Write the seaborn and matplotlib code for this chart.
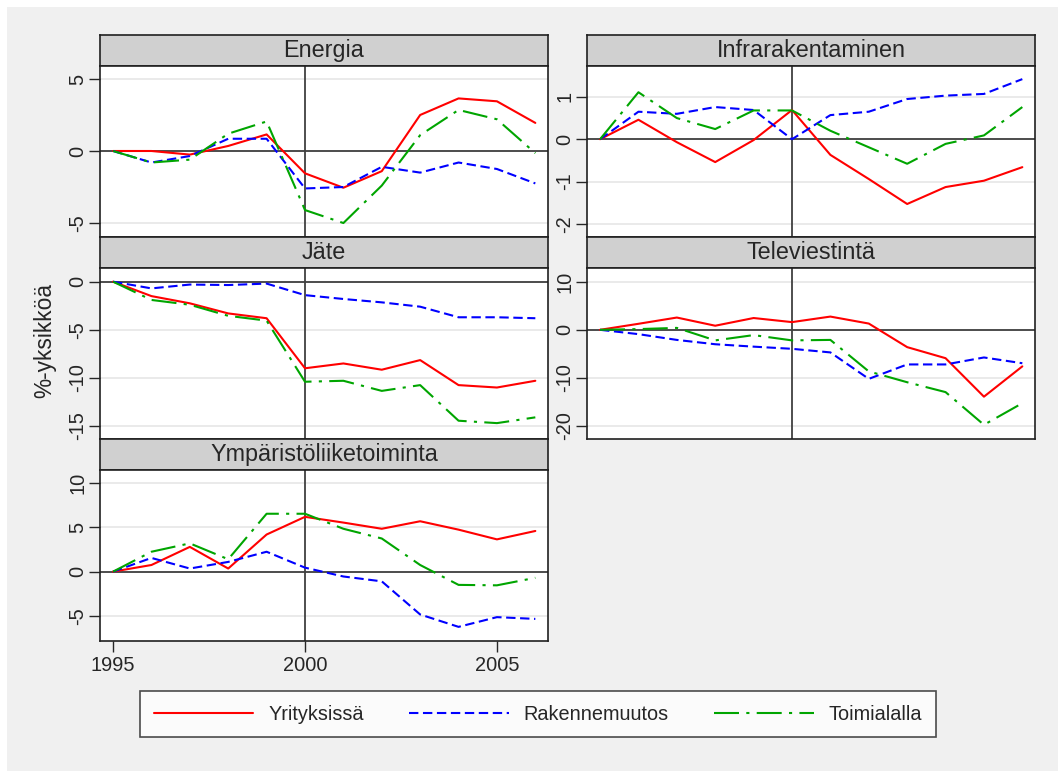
import pandas as pd
import seaborn as sns
import matplotlib
matplotlib.use('Agg')
import matplotlib.pyplot as plt
from matplotlib.lines import Line2D
from matplotlib.patches import Rectangle

# vuodet ja sarjat
years = list(range(1995, 2007))
series = ['Yrityksissä', 'Rakennemuutos', 'Toimialalla']

energia_yri = [0, 0, -0.25, 0.35, 1.15, -1.55, -2.55, -1.4, 2.5, 3.65, 3.45, 1.95]
energia_rak = [0, -0.8, -0.35, 0.85, 0.85, -2.6, -2.5, -1.1, -1.5, -0.8, -1.25, -2.25]
energia_toi = [0, -0.8, -0.6, 1.2, 2.05, -4.1, -5.0, -2.4, 1.1, 2.85, 2.2, -0.15]

infra_yri = [0, 0.46, -0.07, -0.54, -0.02, 0.69, -0.37, -0.94, -1.53, -1.13, -0.98, -0.66]
infra_rak = [0, 0.65, 0.6, 0.76, 0.69, 0.0, 0.57, 0.65, 0.95, 1.03, 1.07, 1.42]
infra_toi = [0, 1.11, 0.5, 0.24, 0.68, 0.68, 0.2, -0.19, -0.58, -0.11, 0.09, 0.76]

jate_yri = [0, -1.5, -2.25, -3.3, -3.8, -9.0, -8.5, -9.15, -8.15, -10.75, -11.0, -10.3]
jate_rak = [0, -0.7, -0.3, -0.35, -0.2, -1.4, -1.8, -2.15, -2.6, -3.7, -3.7, -3.8]
jate_toi = [0, -1.9, -2.4, -3.55, -4.05, -10.4, -10.3, -11.35, -10.75, -14.45, -14.7, -14.1]

tele_yri = [0, 1.25, 2.55, 0.85, 2.45, 1.6, 2.75, 1.3, -3.6, -5.9, -13.9, -7.6]
tele_rak = [0, -0.9, -2.1, -3.0, -3.5, -3.95, -4.7, -10.2, -7.2, -7.2, -5.75, -6.95]
tele_toi = [0, 0.15, 0.4, -2.2, -1.1, -2.2, -2.1, -8.65, -10.9, -12.95, -19.75, -15.25]

ymp_yri = [0, 0.75, 2.8, 0.35, 4.2, 6.2, 5.55, 4.85, 5.7, 4.75, 3.65, 4.6]
ymp_rak = [0, 1.55, 0.35, 1.1, 2.25, 0.45, -0.55, -1.1, -4.85, -6.25, -5.15, -5.35]
ymp_toi = [0, 2.25, 3.2, 1.4, 6.55, 6.55, 4.85, 3.75, 0.75, -1.5, -1.55, -0.7]

panel_data = {
    'Energia': (energia_yri, energia_rak, energia_toi),
    'Infrarakentaminen': (infra_yri, infra_rak, infra_toi),
    'Jäte': (jate_yri, jate_rak, jate_toi),
    'Televiestintä': (tele_yri, tele_rak, tele_toi),
    'Ympäristöliiketoiminta': (ymp_yri, ymp_rak, ymp_toi),
}
yticks = {
    'Energia': [-5, 0, 5],
    'Infrarakentaminen': [-2, -1, 0, 1],
    'Jäte': [-15, -10, -5, 0],
    'Televiestintä': [-20, -10, 0, 10],
    'Ympäristöliiketoiminta': [-5, 0, 5, 10],
}
ylims = {
    'Energia': (-5.97, 5.9),
    'Infrarakentaminen': (-2.31, 1.73),
    'Jäte': (-16.35, 1.42),
    'Televiestintä': (-22.7, 12.85),
    'Ympäristöliiketoiminta': (-7.85, 11.5),
}

rows = []
for panel, vals in panel_data.items():
    for s, v in zip(series, vals):
        for yr, val in zip(years, v):
            rows.append({'panel': panel, 'series': s, 'year': yr, 'value': val})
df = pd.DataFrame(rows)

sns.set_style('white')
plt.rcParams['font.family'] = ['Liberation Sans', 'DejaVu Sans']
plt.rcParams['axes.unicode_minus'] = False

colors = {'Yrityksissä': '#ff0000', 'Rakennemuutos': '#0000ff', 'Toimialalla': '#00a500'}
dashes = {'Yrityksissä': '', 'Rakennemuutos': (4.5, 2.2), 'Toimialalla': (12, 3.5, 1.5, 3.5)}

W, H = 1058, 771
fig = plt.figure(figsize=(W / 100, H / 100), dpi=100, facecolor='white')
fig.patches.append(Rectangle((7 / W, 0), 1, 1 - 7 / H, transform=fig.transFigure,
                             facecolor='#f0f0f0', edgecolor='none', zorder=-10))

# paneelien sijainnit pikseleinä: (vasen, otsikon yläreuna)
layout = {
    'Energia': (100, 35),
    'Infrarakentaminen': (587, 35),
    'Jäte': (100, 237),
    'Televiestintä': (587, 237),
    'Ympäristöliiketoiminta': (100, 439),
}
pw, hh, ph = 448, 31, 171

for panel, (px, py) in layout.items():
    hdr = fig.add_axes([px / W, 1 - (py + hh) / H, pw / W, hh / H])
    hdr.set_facecolor('#d0d0d0')
    hdr.set_xticks([])
    hdr.set_yticks([])
    for sp in hdr.spines.values():
        sp.set_color('#202020')
        sp.set_linewidth(1.2)
    hdr.text(0.5, 0.5, panel, ha='center', va='center', fontsize=16.8, transform=hdr.transAxes)

    ax = fig.add_axes([px / W, 1 - (py + hh + ph) / H, pw / W, ph / H])
    ax.set_facecolor('white')
    d = df[df['panel'] == panel]
    sns.lineplot(data=d, x='year', y='value', hue='series', style='series',
                 hue_order=series, style_order=series, palette=colors, dashes=dashes,
                 linewidth=1.5, legend=False, ax=ax, zorder=3)
    ax.axhline(0, color='#404040', lw=1.3, zorder=2)
    ax.axvline(2000, color='#404040', lw=1.3, zorder=2)
    ax.set_xlim(1994.66, 2006.33)
    ax.set_ylim(*ylims[panel])
    ax.set_yticks(yticks[panel])
    ax.grid(axis='y', color='#e6e6e6', lw=1.2)
    ax.grid(axis='x', visible=False)
    ax.set_axisbelow(True)
    ax.set_xlabel('')
    ax.set_ylabel('')
    ax.tick_params(axis='y', direction='out', length=8, width=1, pad=1,
                   labelsize=14.4, labelrotation=90, left=True)
    for lab in ax.get_yticklabels():
        lab.set_va('center')
    ax.set_xticks([1995, 2000, 2005])
    if panel == 'Ympäristöliiketoiminta':
        ax.tick_params(axis='x', direction='out', length=8, width=1, pad=3,
                       labelsize=14.4, bottom=True)
    else:
        ax.tick_params(axis='x', bottom=False, labelbottom=False)
    for sp in ax.spines.values():
        sp.set_color('#202020')
        sp.set_linewidth(1.2)

fig.text(45 / W, 1 - 340 / H, '%-yksikköä', rotation=90, ha='center', va='center', fontsize=16.4)

handles = [Line2D([], [], color=colors['Yrityksissä'], lw=1.5, linestyle='-'),
           Line2D([], [], color=colors['Rakennemuutos'], lw=1.5, dashes=dashes['Rakennemuutos']),
           Line2D([], [], color=colors['Toimialalla'], lw=1.5, dashes=dashes['Toimialalla'])]
leg = fig.legend(handles, series, loc='center', bbox_to_anchor=(538 / W, 1 - 714 / H),
                 ncol=3, frameon=True, fancybox=False, fontsize=14.3,
                 handlelength=5.0, handletextpad=0.75, columnspacing=2.3, borderpad=0.7)
leg.get_frame().set_edgecolor('#202020')
leg.get_frame().set_linewidth(1.2)
leg.get_frame().set_facecolor('white')

fig.savefig('out.png', dpi=100, facecolor=fig.get_facecolor())
